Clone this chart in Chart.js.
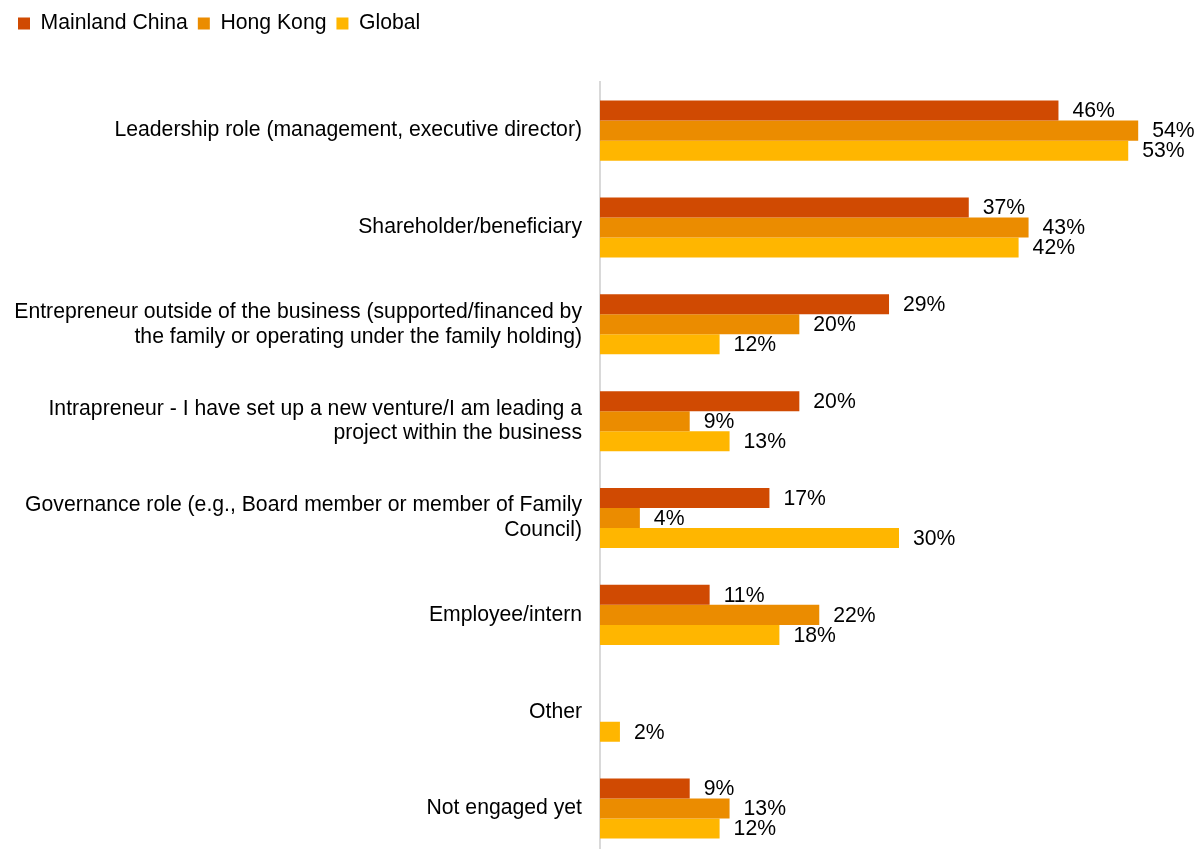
<!DOCTYPE html>
<html>
<head>
<meta charset="utf-8">
<script src="https://cdn.jsdelivr.net/npm/chart.js@4.4.1/dist/chart.umd.min.js"></script>
<style>
  html, body { margin: 0; padding: 0; background: #fff; overflow: hidden; }
  canvas { display: block; }
</style>
</head>
<body>
<canvas id="roles" width="1198" height="857"></canvas>
<script>
// role categories, top to bottom
const roles = [
  "Leadership role (management, executive director)",
  "Shareholder/beneficiary",
  ["Entrepreneur outside of the business (supported/financed by", "the family or operating under the family holding)"],
  ["Intrapreneur - I have set up a new venture/I am leading a", "project within the business"],
  ["Governance role (e.g., Board member or member of Family", "Council)"],
  "Employee/intern",
  "Other",
  "Not engaged yet",
];

// share of respondents, %
const mainlandChina = [46, 37, 29, 20, 17, 11, null, 9];
const hongKong = [54, 43, 20, 9, 4, 22, null, 13];
const globalAvg = [53, 42, 12, 13, 30, 18, 2, 12];

const FONT = "Liberation Sans, Arial, sans-serif";
const FONT_SIZE = 21.2;

// push the plot down below the legend
const legendGap = {
  id: "legendGap",
  beforeInit(chart) {
    const fit = chart.legend.fit;
    chart.legend.fit = function () {
      fit.bind(chart.legend)();
      this.height += 38;
    };
  },
};

// percentage next to the end of each bar
const barLabels = {
  id: "barLabels",
  afterDatasetsDraw(chart) {
    const ctx = chart.ctx;
    ctx.save();
    ctx.font = FONT_SIZE + "px " + FONT;
    ctx.fillStyle = "#000";
    ctx.textAlign = "left";
    ctx.textBaseline = "middle";
    chart.data.datasets.forEach((ds, i) => {
      chart.getDatasetMeta(i).data.forEach((bar, j) => {
        const v = ds.data[j];
        if (v == null) return;
        ctx.fillText(v + "%", bar.x + 14, bar.y + 1);
      });
    });
    ctx.restore();
  },
};

new Chart(document.getElementById("roles"), {
  type: "bar",
  data: {
    labels: roles,
    datasets: [
      { label: "Mainland China", data: mainlandChina, backgroundColor: "#D04A02" },
      { label: "Hong Kong", data: hongKong, backgroundColor: "#EB8C00" },
      { label: "Global", data: globalAvg, backgroundColor: "#FFB600" },
    ],
  },
  options: {
    indexAxis: "y",
    responsive: false,
    animation: false,
    categoryPercentage: 0.62,
    barPercentage: 1,
    layout: { padding: { top: 3, right: 0, bottom: 0, left: 8 } },
    plugins: {
      tooltip: { enabled: false },
      legend: {
        position: "top",
        align: "start",
        labels: {
          boxWidth: 12,
          boxHeight: 12,
          padding: 10,
          color: "#000",
          font: { family: FONT, size: FONT_SIZE },
        },
      },
    },
    scales: {
      x: {
        display: false,
        min: 0,
        max: 60,
      },
      y: {
        grid: { display: false, drawTicks: false },
        border: { display: true, color: "#d9d9d9", width: 2 },
        afterFit: (scale) => {
          scale.width = 592;
          // let the bands run to the top and bottom edges
          scale.paddingTop = 0;
          scale.paddingBottom = 0;
        },
        ticks: {
          padding: 18,
          color: "#000",
          font: { family: FONT, size: FONT_SIZE, lineHeight: 1.17 },
        },
      },
    },
  },
  plugins: [legendGap, barLabels],
});
</script>
</body>
</html>
